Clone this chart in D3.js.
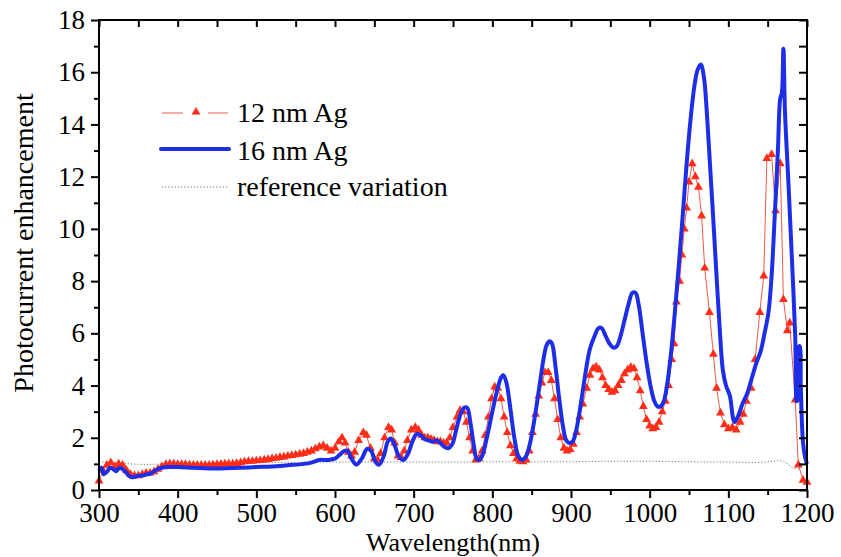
<!DOCTYPE html>
<html>
<head>
<meta charset="utf-8">
<script src="https://cdn.jsdelivr.net/npm/d3@7/dist/d3.min.js"></script>
<style>
html,body{margin:0;padding:0;background:#fff;}
</style>
</head>
<body>
<svg id="chart" width="841" height="557"></svg>
<script>
// ---- data ----
const wl12 = [300,305,310,315,320,325,330,335,340,345,350,355,360,365,370,375,380,385,390,395,400,405,410,415,420,425,430,435,440,445,450,455,460,465,470,475,480,485,490,495,500,505,510,515,520,525,530,535,540,545,550,555,560,565,570,575,580,585,590,595,600,605,609,613,617,621,625,630,636,640,645,650,654,658,663,668,672,676,680,684,688,692,697,702,706,710,714,718,722,726,730,734,738,742,746,750,755,759,763,767,771,775,779,783,787,791,795,799,803,807,811,815,819,823,827,831,835,839,843,847,851,855,859,863,867,871,875,879,883,887,891,895,899,903,907,911,915,920,924,928,932,936,940,944,948,952,956,960,964,968,972,976,980,984,988,992,996,1000,1004,1008,1012,1016,1020,1024,1028,1031,1034,1038,1041,1044,1047,1050,1054,1058,1062,1066,1070,1076,1081,1085,1090,1095,1100,1105,1110,1115,1119,1123,1129,1134,1140,1145,1149,1155,1160,1166,1170,1175,1178,1185,1189,1195,1200];
const enh12 = [0.35,0.75,0.95,1.05,0.9,1.0,0.95,0.75,0.6,0.55,0.55,0.6,0.65,0.65,0.7,0.8,0.9,0.98,1.0,1.0,0.98,0.98,0.98,0.96,0.95,0.95,0.95,0.95,0.95,0.96,0.98,0.99,1.0,1.0,1.0,1.02,1.05,1.08,1.1,1.1,1.12,1.13,1.15,1.17,1.2,1.22,1.25,1.27,1.3,1.32,1.35,1.37,1.4,1.45,1.5,1.58,1.65,1.7,1.6,1.5,1.6,1.85,2.0,1.8,1.45,1.3,1.45,1.9,2.2,2.1,1.6,1.2,1.15,1.4,2.0,2.4,2.3,1.8,1.3,1.25,1.5,1.9,2.3,2.4,2.3,2.1,2.0,2.0,1.95,1.9,1.85,1.85,1.8,1.8,2.0,2.4,2.8,3.05,3.0,2.6,2.0,1.5,1.15,1.2,1.5,2.1,2.8,3.5,3.95,3.9,3.5,2.8,2.2,1.7,1.4,1.2,1.1,1.08,1.15,1.5,2.2,2.9,3.6,4.1,4.5,4.5,4.2,3.5,2.7,2.0,1.6,1.5,1.55,1.75,2.2,2.8,3.3,3.9,4.4,4.65,4.72,4.6,4.3,4.0,3.85,3.75,3.8,4.0,4.2,4.45,4.6,4.7,4.65,4.3,3.8,3.2,2.7,2.45,2.35,2.4,2.6,3.0,3.4,4.0,5.0,5.6,7.2,8.0,9.0,10.0,10.8,11.8,12.5,12.0,11.6,10.5,8.5,6.8,5.2,3.9,2.95,2.5,2.35,2.4,2.3,2.6,2.9,3.4,3.9,5.0,6.8,8.2,12.7,12.85,10.7,12.5,7.3,6.1,6.4,3.45,0.96,0.38,0.3];

const wl16 = [300,303,306,310,314,318,322,326,330,335,340,345,350,355,360,365,370,375,380,390,400,420,440,460,480,500,520,540,560,570,580,590,600,606,612,616,621,627,634,641,646,651,656,662,667,671,676,681,687,693,699,704,709,714,719,724,729,734,739,744,749,754,759,764,768,772,776,780,783,787,793,800,806,811,814,818,823,828,833,838,843,848,854,860,865,869,873,876,880,885,890,894,898,902,906,912,918,924,930,935,939,944,949,954,958,963,968,973,978,982,986,991,996,1001,1006,1010,1014,1018,1022,1027,1032,1037,1042,1047,1052,1057,1061,1065,1069,1073,1077,1081,1085,1089,1093,1097,1102,1106,1108,1112,1118,1124,1130,1136,1141,1146,1151,1155,1159,1163,1166,1168,1170,1172,1176,1180,1185,1187,1189,1190,1191,1192,1195,1198,1200];
const enh16 = [0.75,0.85,0.6,0.7,0.85,0.8,0.72,0.85,0.8,0.65,0.5,0.5,0.55,0.55,0.6,0.62,0.72,0.8,0.85,0.88,0.88,0.85,0.82,0.83,0.85,0.88,0.9,0.95,1.0,1.05,1.15,1.15,1.2,1.35,1.5,1.5,1.2,0.97,1.2,1.58,1.5,1.1,0.97,1.3,1.85,1.97,1.7,1.3,1.15,1.4,1.9,2.15,2.1,1.95,1.9,1.85,1.9,1.8,1.65,1.6,1.75,2.3,2.85,3.15,3.15,2.6,1.8,1.2,1.15,1.3,2.0,3.0,3.8,4.3,4.4,4.1,3.1,2.0,1.3,1.15,1.3,1.8,2.8,4.0,5.0,5.55,5.7,5.6,4.8,3.5,2.4,1.9,1.8,1.85,2.2,3.2,4.4,5.4,5.9,6.2,6.2,5.9,5.6,5.45,5.5,5.9,6.5,7.1,7.55,7.55,7.1,6.0,4.9,4.0,3.4,3.2,3.2,3.4,4.0,5.2,6.8,8.6,10.5,12.5,14.2,15.5,16.1,16.3,15.8,14.3,12.3,10.3,8.2,6.2,4.6,4.0,3.6,2.75,2.6,2.8,3.3,3.7,4.3,4.9,5.3,6.0,6.8,8.2,10.5,13.0,15.0,15.2,16.9,14.5,12.0,9.4,5.9,3.4,3.6,5.5,5.5,4.1,1.8,1.2,1.0];

const wlRef = [300,320,340,360,380,400,450,500,550,600,650,700,750,800,850,900,950,1000,1050,1100,1130,1150,1165,1175,1182,1190];
const enhRef = [1.08,1.05,1.0,0.98,1.0,1.02,1.03,1.05,1.06,1.07,1.07,1.07,1.07,1.08,1.08,1.08,1.1,1.1,1.08,1.07,1.05,1.08,1.12,1.0,0.85,0.8];

const xMajor = [300,400,500,600,700,800,900,1000,1100,1200];
const xMinor = [350,450,550,650,750,850,950,1050,1150];
const yMajor = [0,2,4,6,8,10,12,14,16,18];
const yMinor = [1,3,5,7,9,11,13,15,17];
const seriesNames = ["12 nm Ag","16 nm Ag","reference variation"];
const xTitle = "Wavelength(nm)";
const yTitle = "Photocurrent enhancement";

// ---- drawing ----
const FONT = "Liberation Serif, Times New Roman, DejaVu Serif, serif";
const svg = d3.select("#chart");
const L = 99, R = 807, T = 20, B = 490;
const x = d3.scaleLinear().domain([300,1200]).range([L,R]);
const y = d3.scaleLinear().domain([0,18]).range([B,T]);

const redLine = "#ee5a4a", redMark = "#ff2d17", blue = "#1e2ee6";

function zip(a,b){ return a.map((v,i)=>[v,b[i]]); }
const d12 = zip(wl12,enh12), d16 = zip(wl16,enh16), dRef = zip(wlRef,enhRef);

// reference dotted
svg.append("path").datum(dRef)
  .attr("d", d3.line().x(d=>x(d[0])).y(d=>y(d[1])).curve(d3.curveMonotoneX))
  .attr("fill","none").attr("stroke","#777").attr("stroke-width",1)
  .attr("stroke-dasharray","1.2,2");

// 12 nm
svg.append("path").datum(d12)
  .attr("d", d3.line().x(d=>x(d[0])).y(d=>y(d[1])))
  .attr("fill","none").attr("stroke",redLine).attr("stroke-width",1);
const tri = d3.symbol().type(d3.symbolTriangle).size(34);
svg.append("g").selectAll("path").data(d12).join("path")
  .attr("d", tri)
  .attr("transform", d=>`translate(${x(d[0])},${y(d[1])})`)
  .attr("fill", redMark);

// 16 nm
svg.append("path").datum(d16)
  .attr("d", d3.line().x(d=>x(d[0])).y(d=>y(d[1])).curve(d3.curveCatmullRom.alpha(0.5)))
  .attr("fill","none").attr("stroke",blue).attr("stroke-width",4)
  .attr("stroke-linejoin","round");

// axes
const fs = 27;
function styleAxis(g){
  g.attr("font-family", FONT);
  g.select(".domain").remove();
  g.selectAll("line").attr("stroke","#000").attr("stroke-width",2);
}
function styleText(g){
  g.selectAll("text").attr("font-size",fs).attr("fill","#000").attr("font-family",FONT);
}
// bottom
svg.append("g").attr("transform",`translate(0,${B})`)
  .call(d3.axisBottom(x).tickValues(xMajor).tickSize(8).tickPadding(5).tickFormat(d3.format("d")))
  .call(styleAxis).call(styleText);
svg.append("g").attr("transform",`translate(0,${B})`)
  .call(d3.axisBottom(x).tickValues(xMinor).tickSize(5).tickFormat(""))
  .call(styleAxis);
// top
svg.append("g").attr("transform",`translate(0,${T})`)
  .call(d3.axisTop(x).tickValues(xMajor.concat(xMinor)).tickSize(-7).tickFormat(""))
  .call(styleAxis);
// left
svg.append("g").attr("transform",`translate(${L},0)`)
  .call(d3.axisLeft(y).tickValues(yMajor).tickSize(8).tickPadding(6).tickFormat(d3.format("d")))
  .call(styleAxis).call(styleText);
svg.append("g").attr("transform",`translate(${L},0)`)
  .call(d3.axisLeft(y).tickValues(yMinor).tickSize(5).tickFormat(""))
  .call(styleAxis);
// right
svg.append("g").attr("transform",`translate(${R},0)`)
  .call(d3.axisRight(y).tickValues(yMajor.concat(yMinor)).tickSize(-8).tickFormat(""))
  .call(styleAxis);

// frame
svg.append("rect").attr("x",L).attr("y",T).attr("width",R-L).attr("height",B-T)
  .attr("fill","none").attr("stroke","#000").attr("stroke-width",2);

// titles
svg.append("text").attr("x",453).attr("y",551).attr("text-anchor","middle")
  .attr("font-family",FONT).attr("font-size",26).text(xTitle);
svg.append("text").attr("transform","translate(33,243) rotate(-90)")
  .attr("font-family",FONT).attr("text-anchor","middle").attr("font-size",28).text(yTitle);

// legend
const lg = svg.append("g");
const ly = [113,149,187], lt = [122,160,196];
lg.append("line").attr("x1",162).attr("x2",183).attr("y1",ly[0]).attr("y2",ly[0]).attr("stroke",redLine).attr("stroke-width",1);
lg.append("line").attr("x1",208).attr("x2",228).attr("y1",ly[0]).attr("y2",ly[0]).attr("stroke",redLine).attr("stroke-width",1);
lg.append("path").attr("d",tri).attr("transform",`translate(196,${ly[0]-1})`).attr("fill",redMark);
lg.append("line").attr("x1",161).attr("x2",229).attr("y1",ly[1]).attr("y2",ly[1]).attr("stroke",blue).attr("stroke-width",4).attr("stroke-linecap","round");
lg.append("line").attr("x1",162).attr("x2",228).attr("y1",ly[2]).attr("y2",ly[2]).attr("stroke","#777").attr("stroke-width",1).attr("stroke-dasharray","1.2,2");
seriesNames.forEach((n,i)=>{
  lg.append("text").attr("x",237).attr("y",lt[i]).attr("font-family",FONT).attr("font-size",28).attr("fill","#000").text(n);
});
</script>
</body>
</html>
